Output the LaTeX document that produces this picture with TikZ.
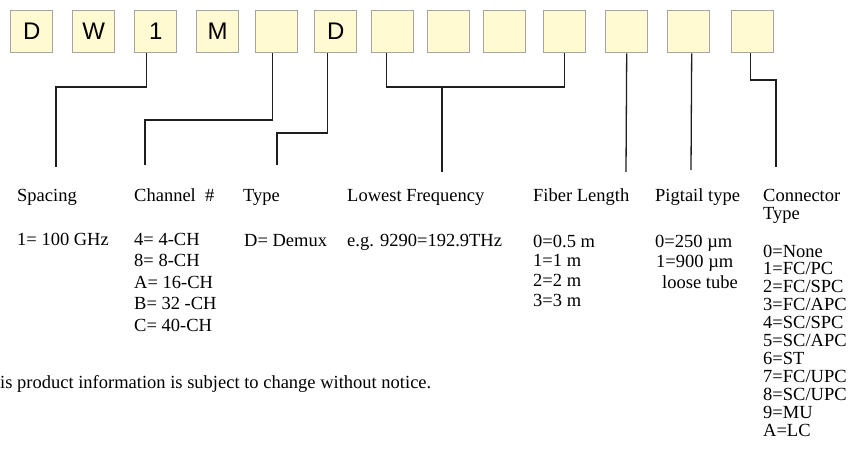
\documentclass[tikz,border=0pt]{standalone}
\usepackage{fontspec}
\setmainfont{Liberation Serif}
\newfontfamily\boxfont{Liberation Sans}
\usetikzlibrary{calc}
\definecolor{boxfill}{RGB}{255,250,210}
\definecolor{boxline}{RGB}{165,165,165}
\definecolor{wire}{RGB}{30,30,30}
\begin{document}
\begin{tikzpicture}[x=1pt,y=-1pt,
  codebox/.style={draw=boxline,line width=1.4pt,fill=boxfill,minimum width=42pt,minimum height=42pt,inner sep=0pt,anchor=north west,font=\boxfont\fontsize{24}{24}\selectfont},
  lbl/.style={anchor=base west,inner sep=0pt,font=\fontsize{18.5}{21}\selectfont},
  wireline/.style={draw=wire,line width=1.3pt}]
\useasboundingbox (0,0) rectangle (862,452);
% code boxes
\node[codebox] (b1) at (10,10) {D};
\node[codebox] (b2) at (72,10) {W};
\node[codebox] (b3) at (134,10) {1};
\node[codebox] (b4) at (196,10) {M};
\node[codebox] (b5) at (255,10) {};
\node[codebox] (b6) at (314,10) {D};
\node[codebox] (b7) at (371,10) {};
\node[codebox] (b8) at (427,10) {};
\node[codebox] (b9) at (483,10) {};
\node[codebox] (b10) at (543,10) {};
\node[codebox] (b11) at (605,10) {};
\node[codebox] (b12) at (667,10) {};
\node[codebox] (b13) at (731,10) {};
% headings
\node[lbl] (hspc) at (17,201) {Spacing};
\node[lbl] (hch) at (134,201) {Channel\ \ \#};
\node[lbl] (htyp) at (243,201) {Type};
\node[lbl] (hlf) at (347,201) {Lowest Frequency};
\node[lbl] (hfib) at (533,201) {Fiber Length};
\node[lbl] (hpig) at (655,201) {Pigtail type};
\node[lbl] (hcon) at (763,201) {Connector};
\node[lbl] (hcon2) at (763,219) {Type};
% values
\node[lbl] (vspc) at (17,245) {1= 100 GHz};
\foreach \t [count=\i] in {4= 4-CH,8= 8-CH,A= 16-CH,B= 32 -CH,C= 40-CH}
  \node[lbl] (ch\i) at (134,245+21.5*\i-21.5) {\t};
\node[lbl] (vtyp) at (244,246) {D= Demux};
\node[lbl] (vlf) at (347,246) {e.g. 9290=192.9THz};
\foreach \t [count=\i] in {0=0.5 m,1=1 m,2=2 m,3=3 m}
  \node[lbl] (fib\i) at (533,247+19.7*\i-19.7) {\t};
\node[lbl] (pig1) at (655,247) {0=250 µm};
\node[lbl] (pig2) at (656,267) {1=900 µm};
\node[lbl] (pig3) at (662,288) {loose tube};
\foreach \t [count=\i] in {0=None,1=FC/PC,2=FC/SPC,3=FC/APC,4=SC/SPC,5=SC/APC,6=ST,7=FC/UPC,8=SC/UPC,9=MU,A=LC}
  \node[lbl] (con\i) at (763,257+17.9*\i-17.9) {\t};
\node[lbl] (foot) at (0,388) {is product information is subject to change without notice.};
% connector end points
\coordinate (eSpc) at (56,167);
\coordinate (eCh) at (145,165);
\coordinate (eTyp) at (277,165);
\coordinate (eLf) at (442,172);
\coordinate (eFib) at (626,172);
\coordinate (ePig) at (691,170);
\coordinate (eCon) at (776,167);
% connectors
\draw[wireline] ($(b3.south)+(-9,0)$) |- (56,87) -- (eSpc);
\draw[wireline] ($(b5.south)+(-4,0)$) |- (145,120) -- (eCh);
\draw[wireline] ($(b6.south)+(-8,0)$) |- (277,133) -- (eTyp);
\draw[wireline] ($(b7.south)+(-6,0)$) |- (b10.south |- 0,87) -- (b10.south);
\draw[wireline] (eLf |- 0,87) -- (eLf);
\draw[wireline] (b11.south) -- (eFib);
\draw[wireline] ($(b12.south)+(3,0)$) -- (ePig);
\draw[wireline] ($(b13.south)+(-2,0)$) |- (776,80) -- (eCon);
\end{tikzpicture}
\end{document}
